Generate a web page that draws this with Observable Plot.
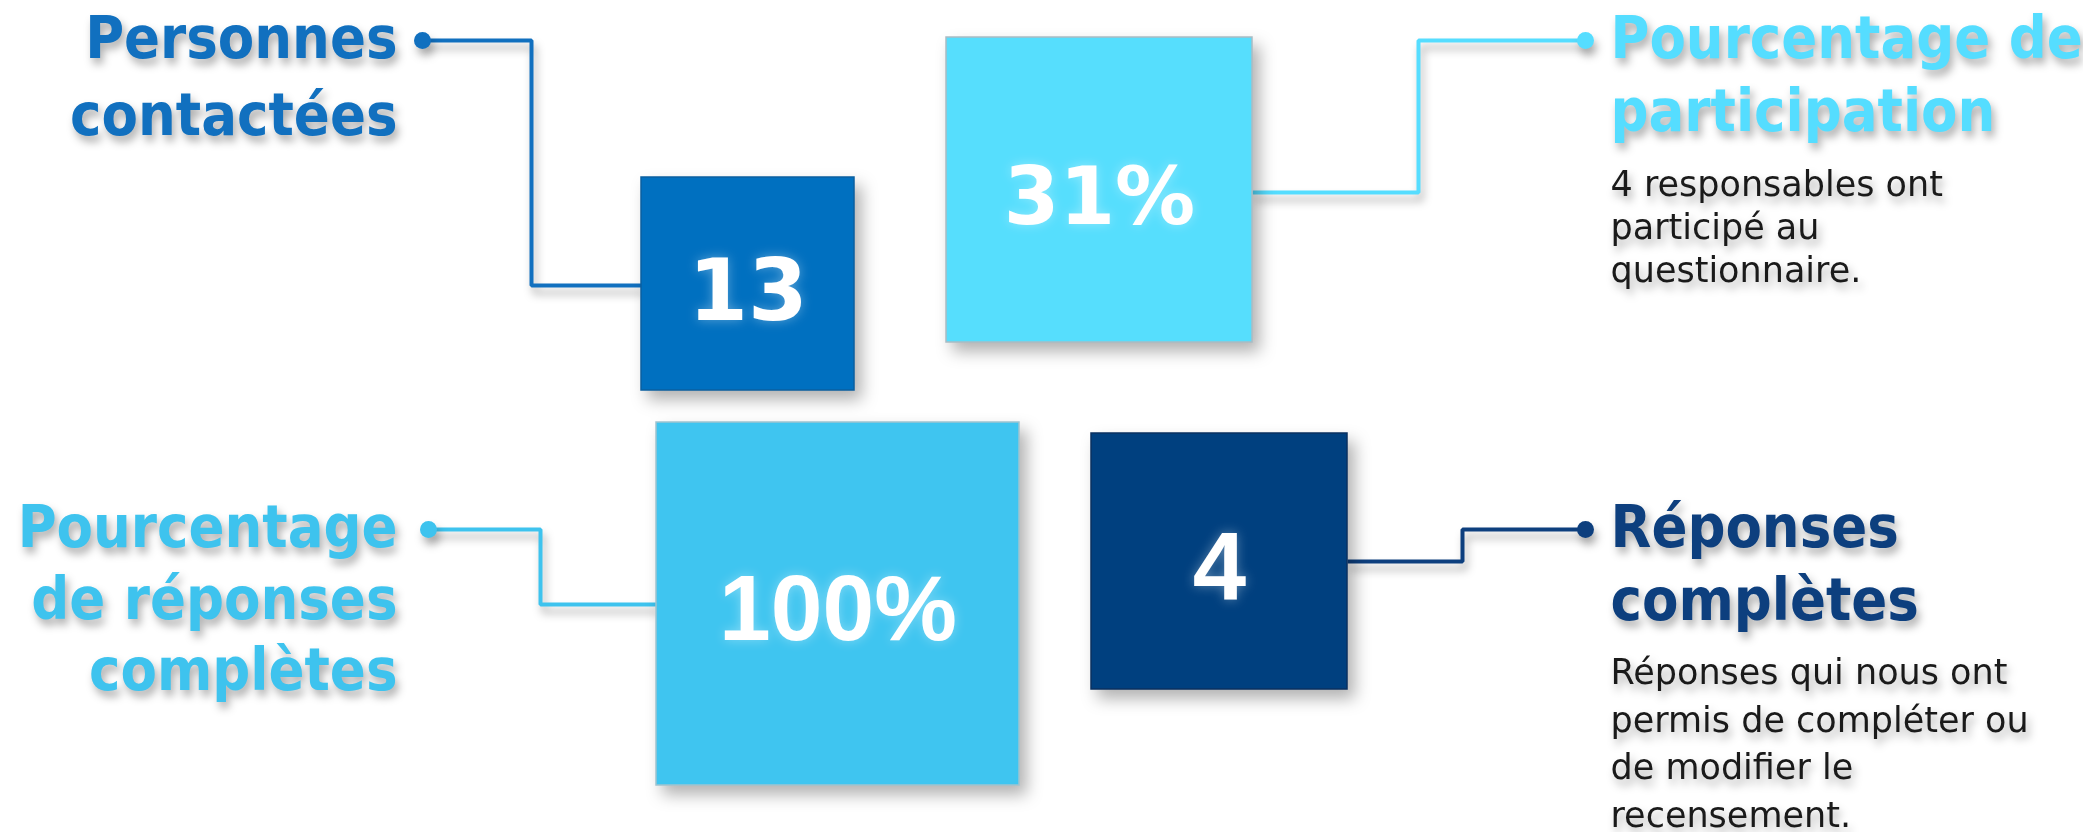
<!DOCTYPE html>
<html lang="fr">
<head>
<meta charset="utf-8">
<script src="https://cdn.jsdelivr.net/npm/d3@7"></script>
<script src="https://cdn.jsdelivr.net/npm/@observablehq/plot@0.6"></script>
<style>
  html, body { margin: 0; padding: 0; background: #ffffff; }
  #chart svg { display: block; overflow: visible; }
  .box-shadow { filter: drop-shadow(7px 9px 8px rgba(0,0,0,0.30)); }
  .line-shadow { filter: drop-shadow(3px 7px 4px rgba(0,0,0,0.30)); }
  .text-shadow { filter: drop-shadow(3px 6px 4px rgba(0,0,0,0.32)); }
  .value-shadow { filter: drop-shadow(0px 0px 6px rgba(255,255,255,0.35)); }
</style>
</head>
<body>
<div id="chart"></div>
<script>
// ---- Data ----
const categories = ["Personnes contactées", "Pourcentage de participation", "Pourcentage de réponses complètes", "Réponses complètes"];
const headingLines = ["Personnes\ncontactées", "Pourcentage de\nparticipation", "Pourcentage\nde réponses\ncomplètes", "Réponses\ncomplètes"];
const values = [13, 31, 100, 4];
const units = ["", "%", "%", ""];
const descriptions = ["", "4 responsables ont\nparticipé au\nquestionnaire.", "", "Réponses qui nous ont\npermis de compléter ou\nde modifier le\nrecensement."];

// ---- Layout (positions / styles, kept apart from the data) ----
const W = 2083, H = 832;
const HEAD_FS = 59, DESC_FS = 35;
const layout = [
  {side: "left",  box: [641, 854, 177, 390],  fill: "#0070C0", edge: "#0a5fa0", color: "#1170BF",
   labelX: 397, gap: 77, dotX: 422, dotY: 40,  elbowX: 531,  boxY: 285,
   valueFont: "DejaVu Sans", valueSize: 86, valueDY: 8},
  {side: "right", box: [946, 1252, 37, 342],  fill: "#56DEFD", edge: "#a9bcc4", color: "#55DDFF",
   labelX: 1610, gap: 73, dotX: 1585, dotY: 40, elbowX: 1418, boxY: 192,
   valueFont: "DejaVu Sans", valueSize: 80, valueDY: 8, descBase: 195, descLh: 1.23},
  {side: "left",  box: [656, 1019, 422, 785], fill: "#3FC5F0", edge: "#9fc3d0", color: "#3EC3EE",
   labelX: 397, gap: 71.5, dotX: 428, dotY: 529, elbowX: 540,  boxY: 604,
   valueFont: "Liberation Sans", valueSize: 93, valueDY: 6},
  {side: "right", box: [1091, 1347, 433, 689], fill: "#00407F", edge: "#0a3060", color: "#0D3F7E",
   labelX: 1610, gap: 72.5, dotX: 1585, dotY: 529, elbowX: 1462, boxY: 561,
   valueFont: "Liberation Sans", valueSize: 96, valueDY: 8, descBase: 684, descLh: 1.357}
];

const items = categories.map((c, i) => {
  const L = layout[i];
  const lh = L.gap / HEAD_FS;
  return {
    category: c,
    heading: headingLines[i],
    label: `${values[i]}${units[i]}`,
    description: descriptions[i],
    ...L,
    lh,
    x1: L.box[0], x2: L.box[1], y1: L.box[2], y2: L.box[3],
    // first heading line centred on the connector dot (Plot "top" anchor puts baseline at 0.71·lh em)
    labelY: L.dotY + 0.3 * HEAD_FS - 0.71 * lh * HEAD_FS,
    descY: L.descBase != null ? L.descBase - 0.71 * L.descLh * DESC_FS : null
  };
});

// connector paths derived from box and label geometry
const connectors = items.flatMap(d => {
  const pts = d.side === "left"
    ? [[d.dotX, d.dotY], [d.elbowX, d.dotY], [d.elbowX, d.boxY], [d.x1, d.boxY]]
    : [[d.x2, d.boxY], [d.elbowX, d.boxY], [d.elbowX, d.dotY], [d.dotX, d.dotY]];
  return pts.map(([x, y]) => ({category: d.category, color: d.color, x, y}));
});

const descItems = items.filter(d => d.description);

const chart = Plot.plot({
  width: W,
  height: H,
  margin: 0,
  style: {background: "#ffffff", overflow: "visible"},
  x: {domain: [0, W], range: [0, W], axis: null},
  y: {domain: [0, H], range: [0, H], axis: null},
  marks: [
    // connectors
    Plot.line(connectors, {x: "x", y: "y", z: "category", stroke: d => d.color, strokeWidth: 4,
      strokeLinejoin: "miter", strokeLinecap: "butt", className: "line-shadow"}),
    Plot.dot(items, {x: "dotX", y: "dotY", r: 8.5, fill: "color", stroke: null, className: "line-shadow"}),
    // boxes
    Plot.rect(items, {x1: "x1", x2: "x2", y1: "y1", y2: "y2", fill: "fill", stroke: "edge", strokeWidth: 1.5,
      className: "box-shadow"}),
    // values
    ...items.map(d => Plot.text([d], {
      x: e => (e.x1 + e.x2) / 2, y: e => (e.y1 + e.y2) / 2 + e.valueDY, text: "label",
      fill: "#ffffff", fontSize: d.valueSize, fontWeight: "bold", fontFamily: d.valueFont,
      textAnchor: "middle", lineAnchor: "middle", className: "value-shadow"
    })),
    // headings
    ...items.map(d => Plot.text([d], {
      x: "labelX", y: "labelY", text: "heading", fill: "color",
      fontSize: HEAD_FS, fontWeight: "bold", fontFamily: "'DejaVu Sans Condensed', 'DejaVu Sans', sans-serif",
      textAnchor: d.side === "left" ? "end" : "start", lineAnchor: "top", lineHeight: d.lh,
      className: "text-shadow"
    })),
    // descriptions
    ...descItems.map(d => Plot.text([d], {
      x: "labelX", y: "descY", text: "description", fill: "#1a1a1a",
      fontSize: DESC_FS, fontFamily: "'DejaVu Sans', sans-serif", textAnchor: "start", lineAnchor: "top",
      lineHeight: d.descLh, className: "text-shadow"
    }))
  ]
});

document.getElementById("chart").appendChild(chart);
</script>
</body>
</html>
